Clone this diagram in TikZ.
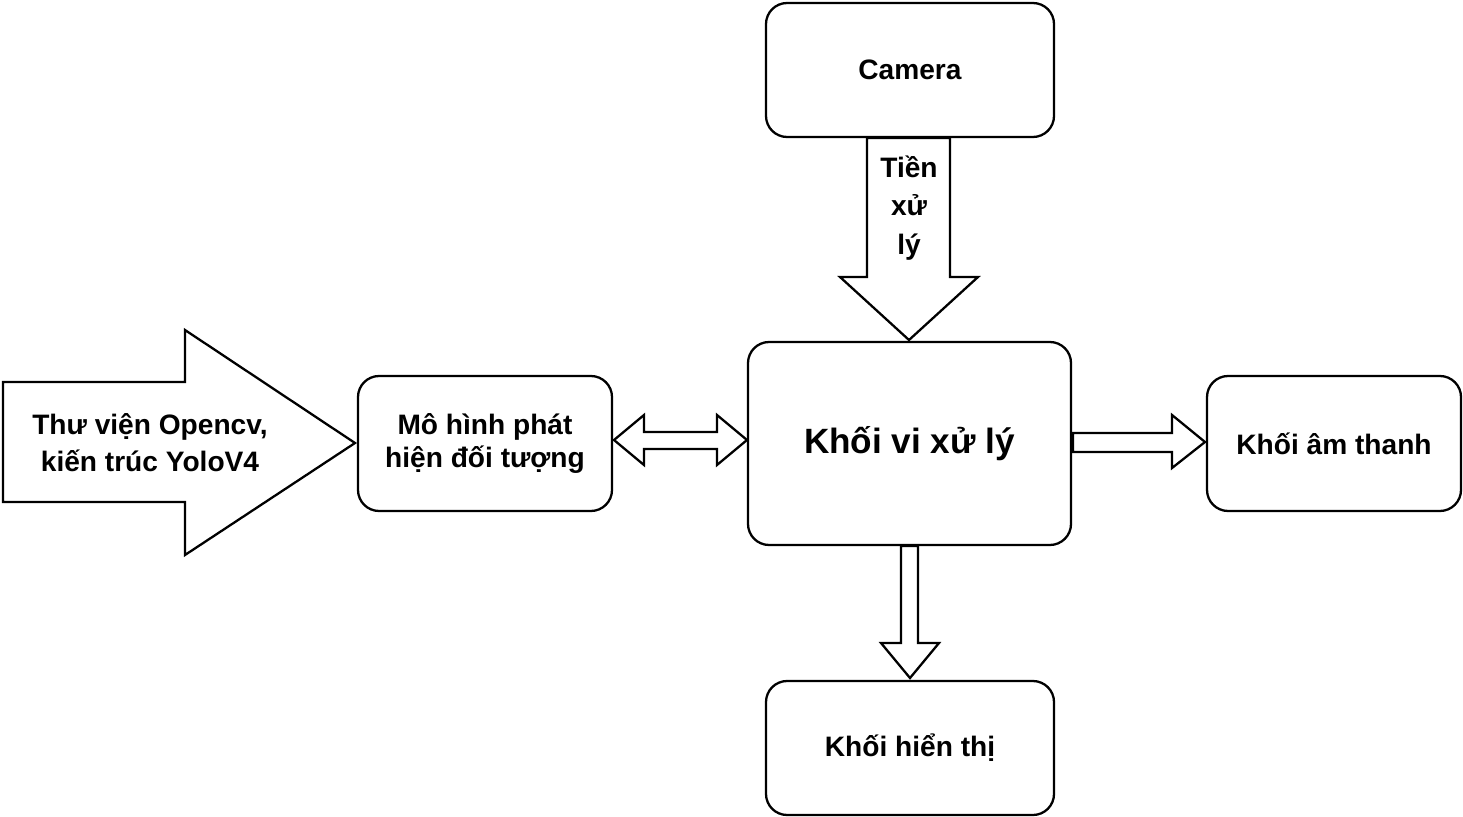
\documentclass[tikz,border=0pt]{standalone}
\usepackage{fontspec}
\setmainfont{Liberation Sans}
\begin{document}
\begin{tikzpicture}[x=0.02cm,y=-0.02cm,
  box/.style={draw,line width=1.3pt,rounded corners=12pt,font=\bfseries\fontsize{16}{19}\selectfont,align=center},
  arr/.style={draw,line width=1.3pt,fill=white,line join=miter}]
\useasboundingbox (0,0) rectangle (1463,817);
\node[box,minimum width=288*0.02cm,minimum height=134*0.02cm] (cam) at (910,70) {Camera};
\node[box,minimum width=323*0.02cm,minimum height=203*0.02cm,font=\bfseries\fontsize{20}{24}\selectfont] (cpu) at (909.5,443.5) {Khối vi xử lý};
\node[box,minimum width=254*0.02cm,minimum height=135*0.02cm] (det) at (485,443.5) {Mô hình phát\\hiện đối tượng};
\node[box,minimum width=254*0.02cm,minimum height=135*0.02cm] (snd) at (1334,443.5) {Khối âm thanh};
\node[box,minimum width=288*0.02cm,minimum height=134*0.02cm] (disp) at (910,748) {Khối hiển thị};
% left big arrow
\draw[arr] (3,382) -- (185,382) -- (185,330) -- (355,443) -- (185,555) -- (185,502) -- (3,502) -- cycle;
\node[font=\bfseries\fontsize{16}{21}\selectfont,align=center] (lib) at (150,443) {Thư viện Opencv,\\kiến trúc YoloV4};
% camera down arrow
\draw[arr] (867,138) -- (950,138) -- (950,277) -- (978,277) -- (909,340) -- (840,277) -- (867,277) -- cycle;
\node[font=\bfseries\fontsize{16}{22}\selectfont,align=center] (pre) at (909,208) {Tiền\\xử\\lý};
% double arrow
\draw[arr] (614,440) -- (644,415) -- (644,432) -- (717,432) -- (717,415) -- (747,440) -- (717,465) -- (717,449) -- (644,449) -- (644,465) -- cycle;
% right arrow
\draw[arr] (1073,433) -- (1172,433) -- (1172,415) -- (1205,442) -- (1172,468) -- (1172,452) -- (1073,452) -- cycle;
% bottom arrow
\draw[arr] (901,546) -- (918,546) -- (918,643) -- (939,643) -- (910,678) -- (881,643) -- (901,643) -- cycle;
\end{tikzpicture}
\end{document}
